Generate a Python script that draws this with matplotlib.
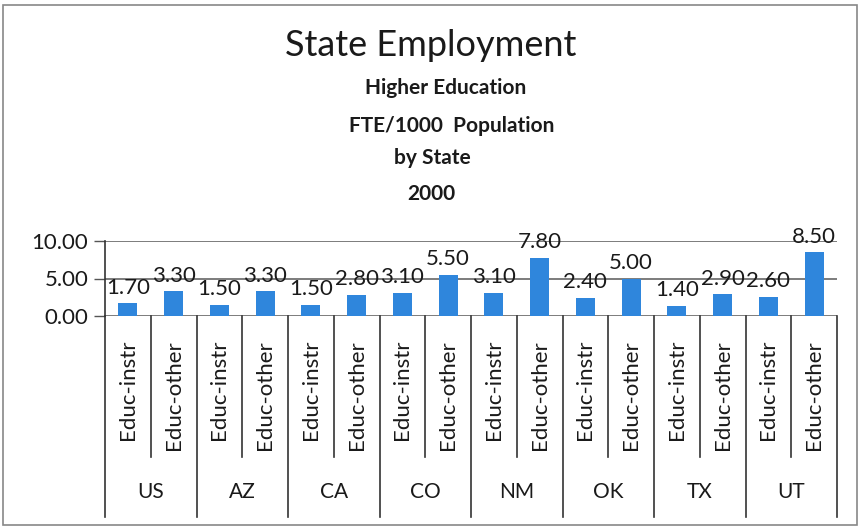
import matplotlib
matplotlib.use("Agg")
import matplotlib.pyplot as plt
from matplotlib.patches import Rectangle
import matplotlib.transforms as mtransforms
import numpy as np

states = ["US", "AZ", "CA", "CO", "NM", "OK", "TX", "UT"]
series = ["Educ-instr", "Educ-other"]
instr = [1.70, 1.50, 1.50, 3.10, 3.10, 2.40, 1.40, 2.60]
other = [3.30, 3.30, 2.80, 5.50, 7.80, 5.00, 2.90, 8.50]
yticks = [0, 5, 10]
title_lines = ["Higher Education", "FTE/1000  Population", "by State", "2000"]

plt.rcParams['font.family'] = ['Lato', 'DejaVu Sans']
TXT = "#1a1a1a"
W, H = 866, 529
fig = plt.figure(figsize=(W / 100, H / 100), dpi=100)

def fx(px):
    return px / W

def fy(py):
    return 1 - py / H

left, right, top, bottom = 105, 837, 241, 316
ax = fig.add_axes([fx(left), fy(bottom), fx(right) - fx(left), fy(top) - fy(bottom)])

values = []
labels = []
for i in range(len(states)):
    values += [instr[i], other[i]]
    labels += series
n = len(values)
x = np.arange(n)
bar_color = "#2F86DC"
ax.bar(x, values, width=0.42, color=bar_color, zorder=3)
ax.set_xlim(-0.5, n - 0.5)
ax.set_ylim(0, 10)
ax.set_yticks(yticks)
ax.set_yticklabels([f"{v:.2f}" for v in yticks], fontsize=16, color=TXT)
ax.tick_params(axis='y', length=8, width=1, color="#555555", pad=4)
ax.set_xticks([])
for s in ["top", "right", "bottom"]:
    ax.spines[s].set_visible(False)
ax.spines["left"].set_color("#333333")
ax.spines["left"].set_linewidth(1.2)
for v in yticks:
    ax.axhline(v, color="#666666", lw=1.2, zorder=1)

for xi, v in zip(x, values):
    ax.annotate(f"{v:.2f}", (xi, v), xytext=(0, 4), textcoords="offset points",
                ha="center", va="bottom", fontsize=16, color=TXT,
                annotation_clip=False, zorder=4)

trans_fig = mtransforms.blended_transform_factory(ax.transData, fig.transFigure)
for xi, lab in zip(x, labels):
    ax.text(xi, fy(340), lab, transform=trans_fig, rotation=90, ha="center", va="top",
            fontsize=16, color=TXT, clip_on=False)
for k in range(n + 1):
    xb = k - 0.5
    y_end = 517 if k % 2 == 0 else 457
    ax.plot([xb, xb], [fy(bottom), fy(y_end)], transform=trans_fig, color="#333333",
            lw=1.2, clip_on=False)
for i, st in enumerate(states):
    ax.text(2 * i + 0.5, fy(492), st, transform=trans_fig, ha="center", va="center",
            fontsize=15, color=TXT, clip_on=False)

# titles
fig.text(fx(431), fy(46), "State Employment", ha="center", va="center", fontsize=26,
         color=TXT)
xs = [446, 452, 432, 431]
ys = [88, 126, 158, 194]
for t, xx, yy in zip(title_lines, xs, ys):
    fig.text(fx(xx), fy(yy), t, ha="center", va="center", fontsize=15, color=TXT,
             fontweight="bold")

# figure border
fig.patches.append(Rectangle((fx(3), fy(525)), fx(857) - fx(3), fy(5) - fy(525),
                             transform=fig.transFigure, fill=False, edgecolor="#888888", lw=1.2))

fig.savefig("out.png", dpi=100)
